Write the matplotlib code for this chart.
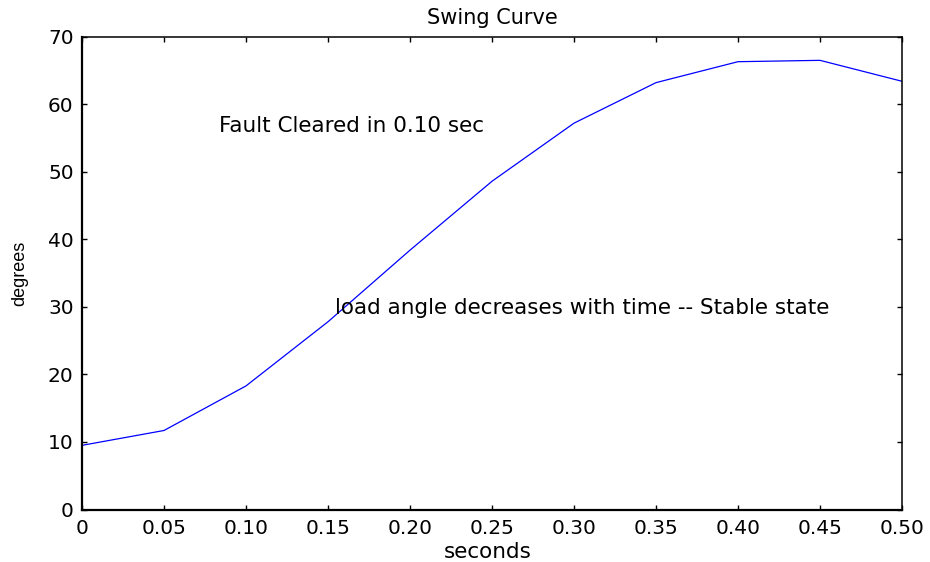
import matplotlib
matplotlib.use('Agg')
import matplotlib.pyplot as plt

# swing curve values
t = [0.00, 0.05, 0.10, 0.15, 0.20, 0.25, 0.30, 0.35, 0.40, 0.45, 0.50]
delta = [9.5, 11.7, 18.3, 27.8, 38.4, 48.6, 57.2, 63.2, 66.3, 66.5, 63.4]
xticks = [0.00, 0.05, 0.10, 0.15, 0.20, 0.25, 0.30, 0.35, 0.40, 0.45, 0.50]
xticklabels = ['0', '0.05', '0.10', '0.15', '0.20', '0.25', '0.30', '0.35', '0.40', '0.45', '0.50']
yticks = [0, 10, 20, 30, 40, 50, 60, 70]

plt.rcParams['font.family'] = ['DejaVu Sans']

fig = plt.figure(figsize=(9.3, 5.62), dpi=100)
ax = fig.add_axes([0.0882, 0.0934, 0.8817, 0.8413])

ax.plot(t, delta, color='#0000ff', lw=0.9)

ax.set_xlim(0, 0.5)
ax.set_ylim(0, 70)
ax.set_xticks(xticks)
ax.set_xticklabels(xticklabels)
ax.set_yticks(yticks)
ax.tick_params(direction='in', length=3.6, width=1.0, labelsize=14.5,
               top=True, right=True, colors='black')
ax.tick_params(axis='x', pad=6.5)
ax.tick_params(axis='y', pad=6)

for s in ['left', 'bottom']:
    ax.spines[s].set_linewidth(1.6)
for s in ['top', 'right']:
    ax.spines[s].set_linewidth(1.1)

ax.set_title('Swing Curve', fontsize=15, pad=9)
ax.set_xlabel('seconds', fontsize=15.5)
ax.xaxis.set_label_coords(0.495, -0.068)
ax.set_ylabel('degrees', fontsize=13, family='Liberation Sans')
ax.yaxis.set_label_coords(-0.0659, 0.5)

ax.text(0.0835, 55.9, 'Fault Cleared in 0.10 sec', fontsize=15.5, va='baseline')
ax.text(0.1543, 29.0, 'load angle decreases with time -- Stable state', fontsize=15.5, va='baseline')

fig.savefig('out.png', dpi=100)
